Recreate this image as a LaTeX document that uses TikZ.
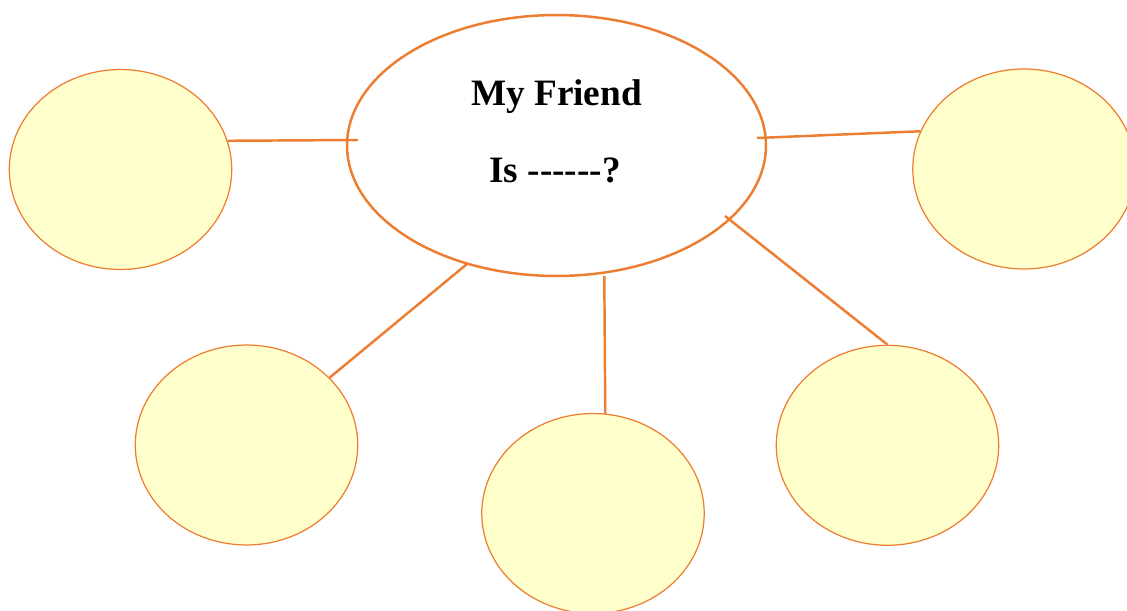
\documentclass[tikz,border=0pt]{standalone}
\usepackage{fontspec}
\setmainfont{Liberation Serif}
\usepackage{tikz}
\usetikzlibrary{shapes.geometric}

\definecolor{bubbleline}{HTML}{ED7D31}
\definecolor{bubblefill}{HTML}{FFFFCC}

\begin{document}
\begin{tikzpicture}[x=0.02cm, y=0.02cm,
    hub/.style={ellipse, draw=bubbleline, line width=1.4pt, fill=white,
      minimum width=8.38cm, minimum height=5.22cm, inner sep=0pt},
    answer/.style={ellipse, draw=bubbleline, line width=0.7pt, fill=bubblefill,
      minimum width=4.45cm, minimum height=4cm, inner sep=0pt},
    spoke/.style={draw=bubbleline, line width=1.4pt},
    headline/.style={font=\fontsize{21.2}{25}\selectfont\bfseries, inner sep=0pt, anchor=base}]
  % Page
  \useasboundingbox (0,0) rectangle (1127,610);

  % Centre bubble
  \node[hub] (friend) at (556.5,464.5) {};
  \node[headline] (title) at (556.5,505) {My Friend};
  \node[headline] (question) at (555,428) {Is -{}-{}-{}-{}-{}-?};

  % Answer bubbles
  \node[answer] (ansW) at (120.5,440.5) {};
  \node[answer] (ansE) at (1024,441) {};
  \node[answer] (ansSW) at (246.5,165) {};
  \node[answer] (ansS) at (593,96.5) {};
  \node[answer] (ansSE) at (887.5,164.7) {};

  % Spoke ends on the centre bubble
  \coordinate (hubW) at (358,470);
  \coordinate (hubE) at (757,472);
  \coordinate (hubSW) at (467,346);
  \coordinate (hubS) at (604.3,334);
  \coordinate (hubSE) at (725,394);

  % Spokes
  \draw[spoke] (ansW.15) -- (hubW);
  \draw[spoke] (hubE) -- (ansE.160);
  \draw[spoke] (ansSW.39) -- (hubSW);
  \draw[spoke] (hubS) -- (ansS.83);
  \draw[spoke] (hubSE) -- (ansSE.north);
\end{tikzpicture}
\end{document}
